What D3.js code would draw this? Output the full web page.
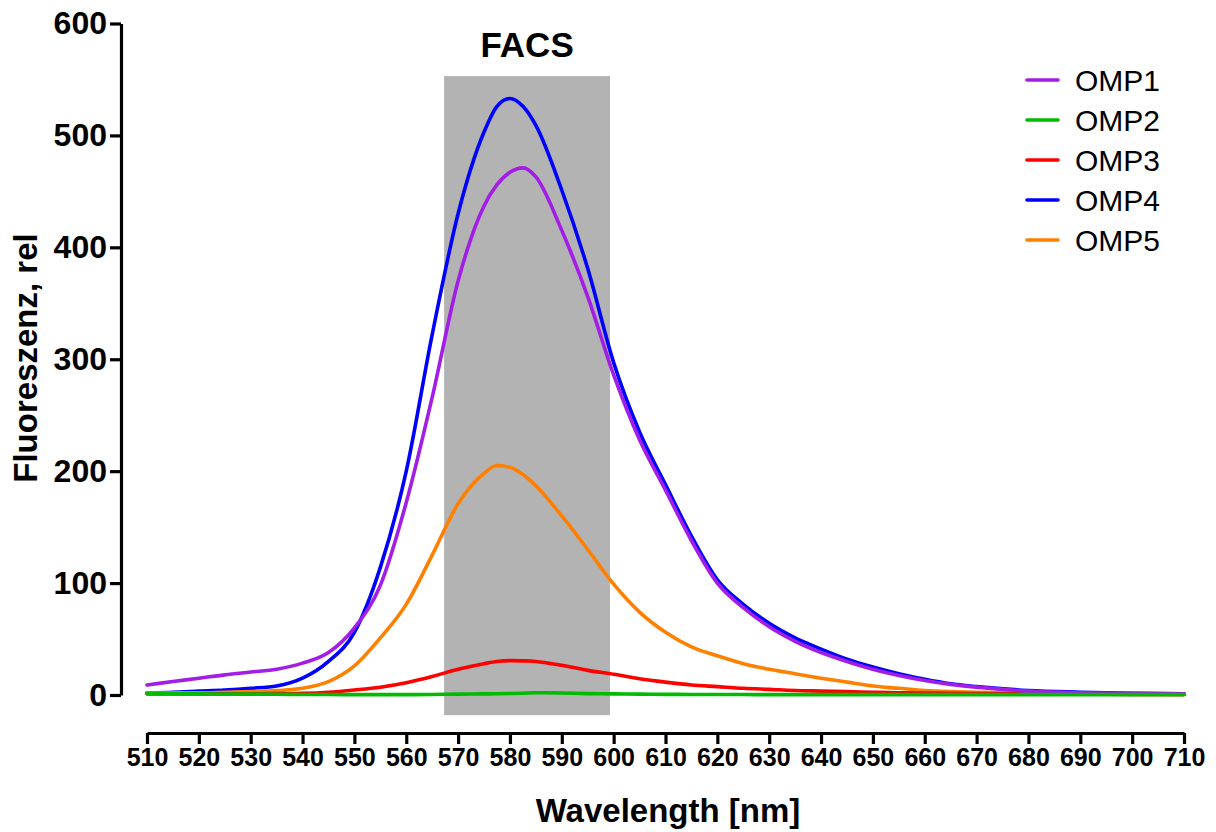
<!DOCTYPE html>
<html>
<head>
<meta charset="utf-8">
<script src="https://cdn.jsdelivr.net/npm/d3@7"></script>
<style>
  html, body { margin: 0; padding: 0; background: #fff; }
  svg { display: block; font-family: Arial, "Liberation Sans", sans-serif; }
</style>
</head>
<body>
<svg id="chart" width="1216" height="832"></svg>
<script>
// Emission spectra of five samples, relative fluorescence vs wavelength (nm)
const wavelengths = [510, 515, 520, 525, 530, 535, 540, 545, 550, 555, 560, 565, 570, 575, 577.5, 580, 582.5, 585, 590, 595, 600,
                     605, 610, 615, 620, 625, 630, 635, 640, 645, 650, 655, 660, 665, 670, 680, 690, 700, 710];

const omp1 = [9, 12, 15, 18, 20.5, 23, 28.5, 38, 60, 98, 172, 266, 370, 437, 456, 467, 471, 463, 415, 356, 286,
              228, 183, 138, 100, 78, 61, 48, 38, 30, 23, 17.5, 13, 9.5, 7, 3.5, 2, 1.5, 1];
const omp2 = [1.5, 1.3, 1, 0.9, 0.8, 0.7, 0.5, 0.4, 0.3, 0.3, 0.3, 0.5, 0.8, 1, 1.1, 1.3, 1.6, 2, 1.8, 1.2, 1,
              0.8, 0.6, 0.5, 0.4, 0.4, 0.3, 0.3, 0.3, 0.3, 0.3, 0.3, 0.3, 0.3, 0.3, 0.3, 0.3, 0.3, 0.3];
const omp3 = [1, 1, 1, 1, 1, 1.2, 1.5, 2.5, 4.5, 7, 11, 16.5, 23, 28, 30, 30.7, 30.5, 30, 26.5, 22, 18.5,
              14.5, 11.5, 9, 7.5, 6, 5, 4, 3.5, 3, 2.5, 2, 1.8, 1.5, 1.2, 1, 0.8, 0.6, 0.5];
const omp4 = [2, 2.5, 3.5, 4.5, 6, 8, 15, 30, 56, 114, 200, 322, 430, 503, 526, 533, 526, 509, 451, 381, 297,
              235, 188, 142, 103, 81, 64, 51, 41, 32, 25, 19, 14, 10, 7.5, 4, 2.5, 1.5, 1];
const omp5 = [2, 2, 2, 2.5, 3, 4, 6, 12, 26, 51, 81, 125, 171, 198, 205, 203.5, 197, 187, 160, 130, 99,
              74, 56, 43, 35, 28, 23, 19, 15, 11.5, 8, 6, 4, 3, 2.5, 1.5, 1, 0.8, 0.5];

const seriesNames = ["OMP1", "OMP2", "OMP3", "OMP4", "OMP5"];
const seriesValues = [omp1, omp2, omp3, omp4, omp5];
const seriesColors = ["#a21ee6", "#00bb00", "#ff0000", "#0000ff", "#ff8000"];
// drawing order (first drawn is underneath)
const drawOrder = [3, 4, 2, 0, 1];

const xTicks = d3.range(510, 711, 10);
const yTicks = [0, 100, 200, 300, 400, 500, 600];

// Wavelength window collected by FACS and the vertical extent of its band
const facsWindow = [567.3, 599.3];
const facsExtent = [-18, 553];
const facsLabel = "FACS";

const xTitle = "Wavelength [nm]";
const yTitle = "Fluoreszenz, rel";

const svg = d3.select("#chart");

const x = d3.scaleLinear().domain([510, 710]).range([147, 1184]);
const y = d3.scaleLinear().domain([0, 600]).range([695, 23.5]);

// FACS band
svg.append("rect")
  .attr("x", x(facsWindow[0]))
  .attr("width", x(facsWindow[1]) - x(facsWindow[0]))
  .attr("y", y(facsExtent[1]))
  .attr("height", y(facsExtent[0]) - y(facsExtent[1]))
  .attr("fill", "#b3b3b3");

svg.append("text")
  .attr("x", x((facsWindow[0] + facsWindow[1]) / 2))
  .attr("y", 57)
  .attr("text-anchor", "middle")
  .attr("font-size", 35)
  .attr("font-weight", "bold")
  .text(facsLabel);

// Y axis (offset to the left of the plot)
const yAxis = svg.append("g")
  .attr("transform", "translate(121,0)")
  .call(d3.axisLeft(y).tickValues(yTicks).tickSize(11).tickPadding(3).tickSizeOuter(0));
yAxis.select(".domain").attr("stroke-width", 3.2).attr("stroke", "#000");
yAxis.selectAll(".tick line").attr("stroke-width", 3.2).attr("stroke", "#000");
yAxis.selectAll(".tick text")
  .attr("font-size", 32).attr("font-weight", "bold").attr("fill", "#000")
  .attr("font-family", "Arial, 'Liberation Sans', sans-serif");

// X axis (offset below the plot)
const xAxis = svg.append("g")
  .attr("transform", "translate(0,733)")
  .call(d3.axisBottom(x).tickValues(xTicks).tickFormat(d3.format("d")).tickSize(11).tickPadding(4).tickSizeOuter(0));
xAxis.select(".domain").attr("stroke-width", 3.2).attr("stroke", "#000");
xAxis.selectAll(".tick line").attr("stroke-width", 3.2).attr("stroke", "#000");
xAxis.selectAll(".tick text")
  .attr("font-size", 25).attr("font-weight", "bold").attr("fill", "#000")
  .attr("font-family", "Arial, 'Liberation Sans', sans-serif");

// Axis titles
svg.append("text")
  .attr("x", 668)
  .attr("y", 822)
  .attr("text-anchor", "middle")
  .attr("font-size", 33)
  .attr("font-weight", "bold")
  .text(xTitle);

svg.append("text")
  .attr("transform", "translate(37,358) rotate(-90)")
  .attr("text-anchor", "middle")
  .attr("font-size", 33)
  .attr("font-weight", "bold")
  .text(yTitle);

// Spectra
const line = d3.line()
  .x((d, i) => x(wavelengths[i]))
  .y(d => y(d))
  .curve(d3.curveMonotoneX);

svg.append("g")
  .selectAll("path")
  .data(drawOrder)
  .join("path")
  .attr("d", k => line(seriesValues[k]))
  .attr("fill", "none")
  .attr("stroke", k => seriesColors[k])
  .attr("stroke-width", 3.6)
  .attr("stroke-linejoin", "round")
  .attr("stroke-linecap", "round");

// Legend
const legend = svg.append("g")
  .selectAll("g")
  .data(seriesNames)
  .join("g")
  .attr("transform", (d, i) => `translate(1027,${80 + i * 40})`);

legend.append("line")
  .attr("x1", 0).attr("x2", 31)
  .attr("y1", 0).attr("y2", 0)
  .attr("stroke", (d, i) => seriesColors[i])
  .attr("stroke-width", 3.6)
  .attr("stroke-linecap", "round");

legend.append("text")
  .attr("x", 48)
  .attr("y", 0)
  .attr("dy", "0.36em")
  .attr("font-size", 30)
  .attr("fill", "#000")
  .text(d => d);
</script>
</body>
</html>
